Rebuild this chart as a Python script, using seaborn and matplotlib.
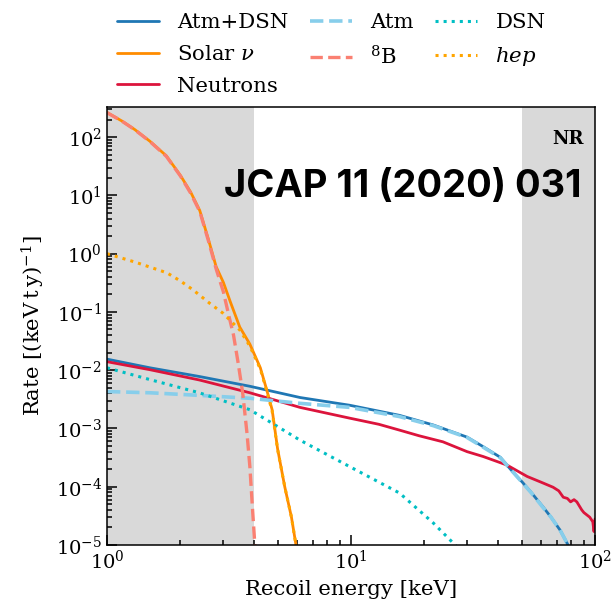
import numpy as np
import pandas as pd
import matplotlib
matplotlib.use("Agg")
import matplotlib.pyplot as plt
import matplotlib.ticker as mticker
import seaborn as sns

# recoil energies [keV] and rates [(keV t y)^-1]
e_tot = [1.0, 1.5, 2.39, 3.85, 6.18, 9.9, 15.8, 21.7, 29.9, 35.0, 40.9, 45.0, 50.6, 55.0, 61.2, 66.0, 71.9, 77.5]
r_tot = [0.0155, 0.011, 0.0078, 0.0053, 0.0034, 0.0025, 0.00168, 0.00115, 7.1e-4, 4.8e-4, 3.2e-4, 2.0e-4,
         1.17e-4, 7.8e-5, 4.5e-5, 3.0e-5, 1.8e-5, 1.0e-5]

e_atm = [1.0, 1.5, 2.39, 3.85, 6.18, 9.9, 15.8, 21.7, 29.9, 35.0, 40.9, 45.0, 50.6, 55.0, 61.2, 66.0, 71.9, 77.5, 80.0]
r_atm = [0.0043, 0.0041, 0.0037, 0.0033, 0.0027, 0.0023, 0.0016, 0.00112, 7.0e-4, 4.7e-4, 3.15e-4, 2.0e-4,
         1.15e-4, 7.7e-5, 4.4e-5, 3.0e-5, 1.8e-5, 1.0e-5, 7e-6]

e_dsn = [1.0, 1.5, 2.39, 3.85, 6.18, 9.9, 15.8, 21.7, 26.7, 28.0]
r_dsn = [0.011, 0.0069, 0.0041, 0.0021, 6.3e-4, 2.2e-4, 7.8e-5, 2.4e-5, 1.0e-5, 8e-6]

e_sol = [1.0, 1.15, 1.3, 1.5, 1.75, 2.0, 2.2, 2.4, 2.6, 2.8, 3.0, 3.2, 3.5, 3.85, 4.25, 4.5, 4.75, 5.0, 5.35, 5.7, 6.0]
r_sol = [265, 190, 135, 85, 48, 22, 11.5, 5.5, 1.8, 0.6, 0.32, 0.15, 0.055, 0.028, 0.011, 0.0048, 0.0021,
         4.5e-4, 1.0e-4, 3.0e-5, 8e-6]

e_b8 = [1.0, 1.15, 1.3, 1.5, 1.75, 2.0, 2.2, 2.4, 2.6, 2.8, 3.0, 3.15, 3.3, 3.45, 3.6, 3.75, 3.85, 3.95, 4.05]
r_b8 = [264, 189, 134, 84, 47, 21.5, 11, 5.3, 1.7, 0.55, 0.22, 0.09, 0.04, 0.013, 0.004, 8e-4, 2.2e-4, 4e-5, 8e-6]

e_hep = [1.0, 1.3, 1.76, 2.0, 2.25, 2.64, 2.99, 3.5, 3.85, 4.25, 4.5, 4.75, 5.0, 5.35, 5.7, 6.0]
r_hep = [1.0, 0.72, 0.47, 0.34, 0.24, 0.14, 0.095, 0.049, 0.026, 0.0105, 0.0046, 0.002, 4.4e-4, 1.0e-4, 3.0e-5, 8e-6]

e_neu = [1.0, 1.5, 2.39, 3.85, 6.18, 9.9, 13.0, 15.9, 19.0, 23.8, 29.9, 34.8, 43.6, 52.7, 60.0, 67.3, 71.0, 74.1,
         77.0, 79.4, 82.0, 84.2, 88.2, 90.0, 92.4, 95.1, 97.9, 99.0, 100.0]
r_neu = [0.014, 0.0102, 0.0068, 0.0041, 0.0023, 0.0015, 0.00118, 9.3e-4, 7.5e-4, 5.9e-4, 4.0e-4, 3.3e-4, 2.35e-4,
         1.5e-4, 1.2e-4, 9.8e-5, 8.5e-5, 6.6e-5, 6.3e-5, 5.5e-5, 6.0e-5, 5.5e-5, 4.0e-5, 3.6e-5, 3.3e-5, 3.0e-5,
         2.5e-5, 1.7e-5, 2.8e-5]

sns.set_theme(style="ticks", rc={
    "axes.edgecolor": "black", "axes.labelcolor": "black", "text.color": "black",
    "xtick.color": "black", "ytick.color": "black", "axes.linewidth": 1.1,
})
plt.rcParams["font.family"] = ["DejaVu Serif"]
plt.rcParams["mathtext.fontset"] = "dejavuserif"

fig = plt.figure(figsize=(6.16, 6.02), dpi=100)
ax = fig.add_axes([0.1737, 0.0947, 0.7923, 0.7276])
ax.set_xscale("log")
ax.set_yscale("log")

ax.axvspan(1, 4, color="#d9d9d9", lw=0, zorder=0)
ax.axvspan(50, 100, color="#d9d9d9", lw=0, zorder=0)

series = [
    (e_tot, r_tot, "Atm+DSN", "#1f77b4", "-", 2.0),
    (e_sol, r_sol, r"Solar $\nu$", "#ff8c00", "-", 2.0),
    (e_neu, r_neu, "Neutrons", "#dc143c", "-", 2.0),
    (e_atm, r_atm, "Atm", "#87ceeb", "--", 2.6),
    (e_b8, r_b8, r"$^8$B", "#fa8072", "--", 2.4),
    (e_dsn, r_dsn, "DSN", "#00bfc4", ":", 2.2),
    (e_hep, r_hep, r"$hep$", "#ffa500", ":", 2.2),
]
for e, r, lab, col, ls, lw in series:
    df = pd.DataFrame({"E": e, "R": r})
    sns.lineplot(data=df, x="E", y="R", ax=ax, color=col, linestyle=ls, lw=lw, label=lab, sort=False)

ax.set_xlim(1, 100)
ax.set_ylim(1e-5, 3.3e2)
ax.yaxis.set_major_locator(mticker.LogLocator(base=10, numticks=20))
ax.yaxis.set_minor_locator(mticker.LogLocator(base=10, subs=np.arange(2, 10), numticks=20))
ax.yaxis.set_minor_formatter(mticker.NullFormatter())
ax.tick_params(which="both", direction="in", top=False, right=False, labelsize=14, width=1.1)
ax.tick_params(which="major", length=7)
ax.tick_params(which="minor", length=3.5)

ax.set_xlabel("Recoil energy [keV]", fontsize=15.3, labelpad=5)
ax.set_ylabel(r"Rate [(keV$\,$t$\,$y)$^{-1}$]", fontsize=15.3, labelpad=6)

ax.text(0.976, 0.948, "NR", transform=ax.transAxes, ha="right", va="top", fontsize=13, fontweight="bold")
fig.text(582 / 616, 1 - 197 / 602, "JCAP 11 (2020) 031", ha="right", va="baseline",
         fontsize=27.4, fontweight="bold", family="Inter", color="black")

handles, labels = ax.get_legend_handles_labels()
ax.legend(handles, labels, ncol=3, frameon=False, fontsize=15.3, loc="upper left",
          bbox_to_anchor=(108 / 616, 1 - 5 / 602), bbox_transform=fig.transFigure, borderaxespad=0,
          handlelength=2.0, columnspacing=1.0, labelspacing=0.59, handletextpad=0.85)

fig.savefig("out.png", dpi=100)
